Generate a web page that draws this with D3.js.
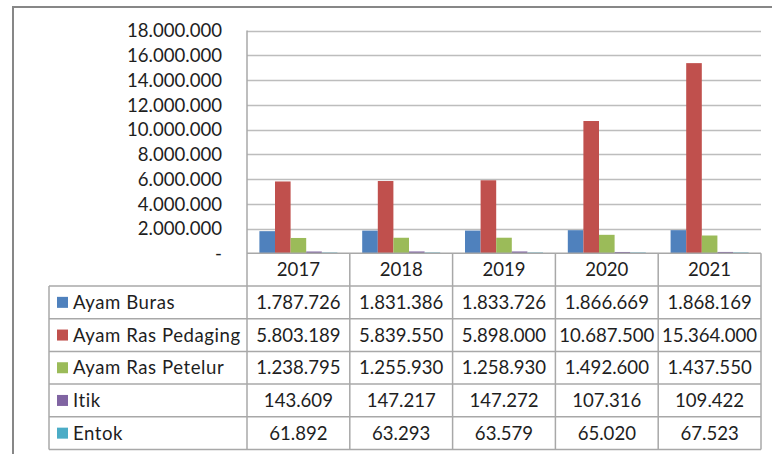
<!DOCTYPE html>
<html><head><meta charset="utf-8">
<script src="https://cdn.jsdelivr.net/npm/d3@7/dist/d3.min.js"></script>
<style>
html,body{margin:0;padding:0;background:#fff;}
svg{display:block;}
text{font-family:Lato,"Open Sans",sans-serif;fill:#1e1e1e;}
</style></head>
<body><svg id="c" width="772" height="454"></svg>
<script>
const years = ["2017","2018","2019","2020","2021"];
const seriesNames = ["Ayam Buras","Ayam Ras Pedaging","Ayam Ras Petelur","Itik","Entok"];
const ayamBuras = [1787726,1831386,1833726,1866669,1868169];
const ayamRasPedaging = [5803189,5839550,5898000,10687500,15364000];
const ayamRasPetelur = [1238795,1255930,1258930,1492600,1437550];
const itik = [143609,147217,147272,107316,109422];
const entok = [61892,63293,63579,65020,67523];
const yTicks = [0,2000000,4000000,6000000,8000000,10000000,12000000,14000000,16000000,18000000];
const colors = ["#4F81BD","#C0504D","#9BBB59","#8064A2","#4BACC6"];

const seriesValues = [ayamBuras, ayamRasPedaging, ayamRasPetelur, itik, entok];
const series = seriesNames.map((n,i)=>({name:n, values:seriesValues[i], color:colors[i]}));

const loc = d3.formatLocale({decimal:",", thousands:".", grouping:[3], currency:["",""]});
const fmt = loc.format(",.0f");

const svg = d3.select("#c");
const plotL = 247, plotR = 761, plotT = 30.5, plotB = 253.3;
const rowH = 32.7, legendL = 49;
const gridColor = "#bdbdbd", tableColor = "#a8a8a8";
const numSize = 18.6;

const x0 = d3.scaleBand().domain(years).range([plotL, plotR]);
const x1 = d3.scaleBand().domain(seriesNames).range([12.4, x0.bandwidth()-12.4]);
const y = d3.scaleLinear().domain([0,18000000]).range([plotB, plotT]);

// outer frame
svg.append("path").attr("d", `M13,454 L13,7 L772,7`).attr("fill","none")
  .attr("stroke","#878787").attr("stroke-width",2);

// gridlines
svg.append("g").selectAll("line").data(yTicks.filter(d=>d>0)).join("line")
  .attr("x1", plotL).attr("x2", plotR)
  .attr("y1", d=>Math.round(y(d))+0.5).attr("y2", d=>Math.round(y(d))+0.5)
  .attr("stroke", gridColor).attr("stroke-width",1.3);

// y axis labels
const yAxis = d3.axisLeft(y).tickValues(yTicks).tickSize(0).tickPadding(0)
  .tickFormat(d=> d===0 ? "-" : fmt(d));
const ga = svg.append("g").attr("transform", `translate(222,0)`).call(yAxis);
ga.select(".domain").remove();
ga.selectAll("text").attr("font-size", numSize).attr("font-family","Lato,sans-serif").attr("fill","#1e1e1e").attr("dy","0.34em");

// bars
const gYear = svg.append("g").selectAll("g").data(years).join("g")
  .attr("transform", d=>`translate(${x0(d)},0)`);
gYear.selectAll("rect").data((d,i)=>series.map(s=>({name:s.name, value:s.values[i], color:s.color})))
  .join("rect")
  .attr("x", d=>x1(d.name)).attr("width", x1.bandwidth())
  .attr("y", d=>y(d.value)).attr("height", d=>plotB - y(d.value))
  .attr("fill", d=>d.color);

// table
const tableTop = plotB;
const nRows = series.length;
const tableBottom = tableTop + rowH*(nRows+1);
const tg = svg.append("g");
tg.append("line").attr("x1",plotL).attr("x2",plotL).attr("y1",plotT).attr("y2",tableBottom)
  .attr("stroke",tableColor).attr("stroke-width",1.5);
const colEdges = years.map(d=>x0(d)+x0.bandwidth());
tg.selectAll("line.col").data(colEdges).join("line").attr("class","col")
  .attr("x1",d=>d).attr("x2",d=>d).attr("y1",tableTop).attr("y2",tableBottom)
  .attr("stroke",tableColor).attr("stroke-width",1.5);
tg.append("line").attr("x1",plotL).attr("x2",plotR).attr("y1",tableTop).attr("y2",tableTop)
  .attr("stroke",tableColor).attr("stroke-width",1.5);
const rowYs = d3.range(nRows+1).map(i=>tableTop + rowH*(i+1));
tg.selectAll("line.row").data(rowYs).join("line").attr("class","row")
  .attr("x1",legendL).attr("x2",plotR).attr("y1",d=>d).attr("y2",d=>d)
  .attr("stroke",tableColor).attr("stroke-width",1.5);
tg.append("line").attr("x1",legendL).attr("x2",legendL).attr("y1",tableTop+rowH).attr("y2",tableBottom)
  .attr("stroke",tableColor).attr("stroke-width",1.5);

// header text
tg.selectAll("text.yr").data(years).join("text").attr("class","yr")
  .attr("x", d=>x0(d)+x0.bandwidth()/2).attr("y", tableTop+rowH/2)
  .attr("dy","0.36em").attr("text-anchor","middle").attr("font-size",numSize).text(d=>d);

// rows
const rows = tg.selectAll("g.r").data(series).join("g").attr("class","r")
  .attr("transform",(d,i)=>`translate(0,${tableTop+rowH*(i+1)})`);
rows.append("rect").attr("x",57).attr("y",rowH/2-5.5).attr("width",11).attr("height",11)
  .attr("fill",d=>d.color);
rows.append("text").attr("x",73).attr("y",rowH/2).attr("dy","0.36em")
  .attr("font-size",18.6).attr("letter-spacing","0.55px").text(d=>d.name);
rows.selectAll("text.v").data(d=>d.values.map((v,i)=>({v, yr:years[i]}))).join("text").attr("class","v")
  .attr("x", d=>x0(d.yr)+x0.bandwidth()/2).attr("y", rowH/2).attr("dy","0.36em")
  .attr("text-anchor","middle").attr("font-size",numSize).text(d=>fmt(d.v));
</script></body></html>
